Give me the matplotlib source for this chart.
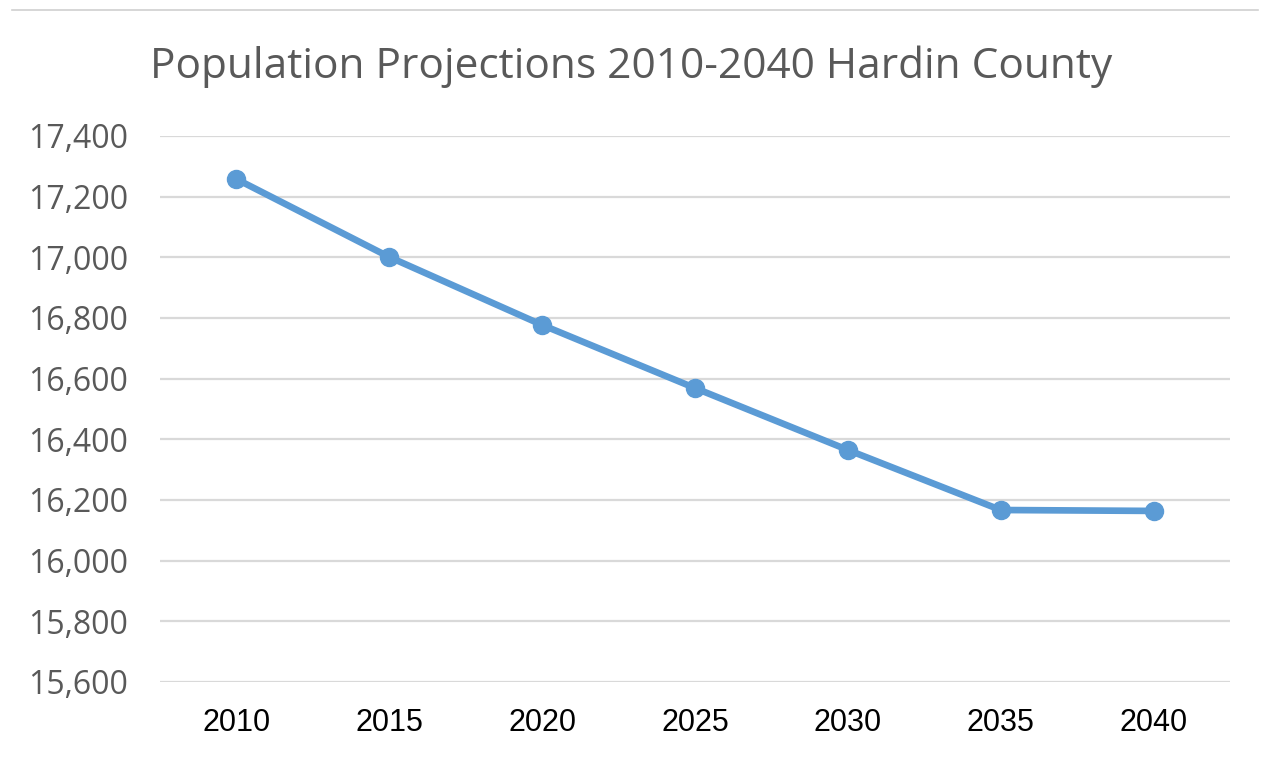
import matplotlib
matplotlib.use("Agg")
import matplotlib.pyplot as plt
from matplotlib.lines import Line2D

years = ["2010", "2015", "2020", "2025", "2030", "2035", "2040"]
population = [17258, 17001, 16777, 16569, 16365, 16167, 16164]
y_ticks = [15600, 15800, 16000, 16200, 16400, 16600, 16800, 17000, 17200, 17400]
title = "Population Projections 2010-2040 Hardin County"

fig = plt.figure(figsize=(12.62, 7.6), dpi=100)
ax = fig.add_axes([160/1262, 1-682/760, (1230-160)/1262, (682-136)/760])

x = list(range(len(years)))
ax.plot(x, population, color="#5B9BD5", linewidth=4.8, marker="o",
        markersize=13, markerfacecolor="#5B9BD5", markeredgecolor="#5B9BD5",
        solid_capstyle="round", zorder=3)

ax.set_xlim(-0.5, len(years) - 0.5)
ax.set_ylim(y_ticks[0], y_ticks[-1])
ax.set_xticks(x)
ax.set_xticklabels(years, fontfamily="Liberation Sans", fontsize=22, color="black")
ax.set_yticks(y_ticks)
ax.set_yticklabels([f"{v:,}" for v in y_ticks], fontfamily="Open Sans",
                   fontsize=23, color="#595959")
ax.tick_params(axis="both", length=0)
ax.tick_params(axis="x", pad=19)
ax.tick_params(axis="y", pad=23)
ax.grid(axis="y", color="#D9D9D9", linewidth=1.6)
ax.set_axisbelow(True)
for s in ax.spines.values():
    s.set_visible(False)

fig.text(0.5, 1-67/760, title, ha="center", va="center", fontfamily="Open Sans",
         fontsize=30.5, color="#595959")

# chart frame line at top
fig.add_artist(Line2D([12/1262, 1258/1262], [1-10/760, 1-10/760],
                      color="#D0D0D0", linewidth=1.2, transform=fig.transFigure))

fig.savefig("out.png", dpi=100)
